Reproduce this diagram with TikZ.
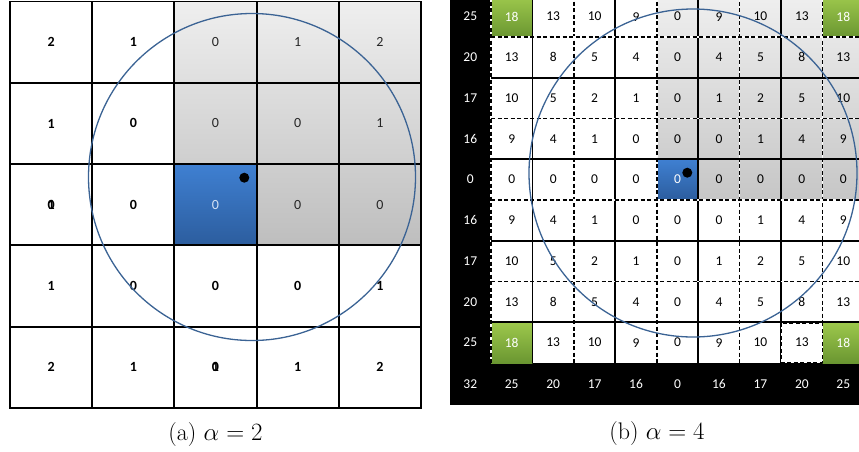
\documentclass[tikz,border=0pt]{standalone}
\usepackage{fontspec}
\newfontfamily\calfont{Carlito}
\usetikzlibrary{positioning}

\definecolor{shadetop}{HTML}{EFEFEF}
\definecolor{shadebot}{HTML}{BEBEBE}
\definecolor{shadebotb}{HTML}{C6C6C6}
\definecolor{bluetop}{HTML}{3F80D2}
\definecolor{bluebot}{HTML}{2C5D9E}
\definecolor{greentop}{HTML}{9DC84C}
\definecolor{greenbot}{HTML}{6A9631}
\definecolor{ringblue}{HTML}{3B6394}
\definecolor{paleblue}{HTML}{D5E3F5}

\begin{document}
\begin{tikzpicture}[
  x=1pt, y=-1pt,
  cella/.style={draw, line width=1.9pt, minimum width=82.2pt, minimum height=81.4pt, inner sep=0pt,
    font={\calfont\fontsize{14}{14}\selectfont}},
  tone0/.style={cella, font={\calfont\bfseries\fontsize{14}{14}\selectfont}},
  tone1/.style={cella, text=black!85},
  tone2/.style={cella, text=paleblue},
  cellb/.style={minimum width=41.45pt, minimum height=40.75pt, inner sep=0pt,
    font={\calfont\fontsize{13.5}{13.5}\selectfont}},
  lit0/.style={cellb},
  lit1/.style={cellb, text=white},
  head/.style={cellb, text=white},
  solidline/.style={line width=1.9pt},
  dashline/.style={line width=1.4pt, dash pattern=on 4pt off 2.5pt},
  ring/.style={draw=ringblue, line width=1.3pt},
  caption/.style={font=\fontsize{24}{28}\selectfont, inner sep=0pt}
]
\useasboundingbox (0,0) rectangle (859,451);
\clip (0,0) rectangle (859,451);

% (a) left grid
\shade[top color=shadetop, bottom color=shadebot] (174.4,1) rectangle (421,245.2);
\shade[top color=bluetop, bottom color=bluebot] (174.4,163.8) rectangle (256.6,245.2);
\foreach \row [count=\r] in {{2,1,0,1,2},{1,0,0,0,1},{0,0,0,0,0},{1,0,0,0,1},{2,1,0,1,2}} {
  \foreach \v [count=\c] in \row {
    \pgfmathtruncatemacro\tone{(\r<4 && \c>2) ? ((\r==3 && \c==3) ? 2 : 1) : 0}
    \node[tone\tone] (a-\r-\c) at ({10+82.2*(\c-0.5)},{1.5+81.3*(\r-0.5)}) {\v};
  }
}
\node[tone0, draw=none] (a-3-1x) at (a-3-1) {1};
\node[tone0, draw=none] (a-5-3x) at (a-5-3) {1};
\node[caption, below=13.5pt of a-5-3] (capa) {(a) $\alpha=2$};

% (b) right grid
\fill[black] (450,-5) rectangle (491,405);
\fill[black] (450,363) rectangle (870,405);
\shade[top color=shadetop, bottom color=shadebotb] (656.6,-5) rectangle (870,200);
\shade[top color=bluetop, bottom color=bluebot] (656.6,159) rectangle (698,200);
\foreach \r/\c in {1/1,1/9,9/1,9/9}
  \shade[top color=greentop, bottom color=greenbot]
    ({491+41.45*(\c-1)},{-3.75+40.75*(\r-1)}) rectangle +(41.45,40.75);

\foreach \k in {0,...,8} {
  \pgfmathtruncatemacro\odd{mod(\k,2)}
  \ifnum\odd=1
    \draw[solidline] ({491+41.45*\k},-5) -- ({491+41.45*\k},363);
  \else
    \draw[white, line width=1.4pt] ({491+41.45*\k},-5) -- ({491+41.45*\k},363);
    \draw[dashline] ({491+41.45*\k},-5) -- ({491+41.45*\k},363);
  \fi
}
\foreach \j in {1,...,8} {
  \pgfmathtruncatemacro\odd{mod(\j,2)}
  \ifnum\odd=0
    \draw[solidline] (491,{-3.75+40.75*\j}) -- (870,{-3.75+40.75*\j});
  \else
    \draw[white, line width=1.4pt] (491,{-3.75+40.75*\j}) -- (870,{-3.75+40.75*\j});
    \draw[dashline] (491,{-3.75+40.75*\j}) -- (870,{-3.75+40.75*\j});
  \fi
}
% odd cell with a dashed frame
\fill[white] (781.1,322.8) rectangle (822.5,363);
\draw[dashline] (781.1,322.8) rectangle (822.5,362.3);

\foreach \row [count=\r] in {{18,13,10,9,0,9,10,13,18},{13,8,5,4,0,4,5,8,13},{10,5,2,1,0,1,2,5,10},
    {9,4,1,0,0,0,1,4,9},{0,0,0,0,0,0,0,0,0},{9,4,1,0,0,0,1,4,9},{10,5,2,1,0,1,2,5,10},
    {13,8,5,4,0,4,5,8,13},{18,13,10,9,0,9,10,13,18}} {
  \foreach \v [count=\c] in \row {
    \pgfmathtruncatemacro\lit{((\r==1 || \r==9) && (\c==1 || \c==9)) || (\r==5 && \c==5)}
    \node[lit\lit] (b-\r-\c) at ({491+41.45*(\c-0.5)},{-3.75+40.75*(\r-0.5)}) {\v};
  }
}
\foreach \v [count=\r] in {25,20,17,16,0,16,17,20,25}
  \node[head] (hl-\r) at (470.3,{-3.75+40.75*(\r-0.5)}) {\v};
\foreach \v [count=\c from 0] in {32,25,20,17,16,0,16,17,20,25}
  \node[head, minimum height=42pt] (hb-\c) at ({491+41.45*(\c-0.5)},384) {\v};
\node[caption, below=16.5pt of hb-4.south east] (capb) {(b) $\alpha=4$};

% circles and centre dots
\draw[ring] (252,177) circle[radius=163.5];
\fill (244.3,177.7) circle[radius=5];
\draw[ring] (693,173) circle[radius=164];
\fill (687.3,172.7) circle[radius=5];
\end{tikzpicture}
\end{document}
